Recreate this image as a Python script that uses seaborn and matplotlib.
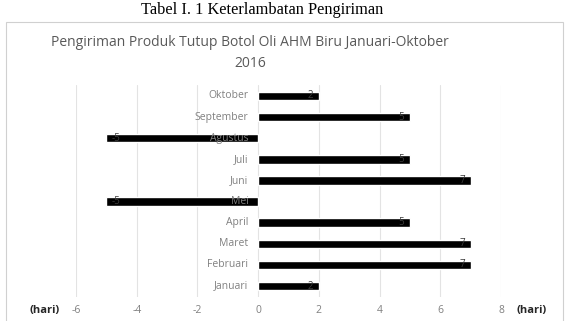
import matplotlib
matplotlib.use("Agg")
import matplotlib.pyplot as plt
import seaborn as sns
import pandas as pd
from matplotlib.patches import Rectangle

months = ["Januari", "Februari", "Maret", "April", "Mei", "Juni", "Juli",
          "Agustus", "September", "Oktober"]
delays = [2, 7, 7, 5, -5, 7, 5, -5, 5, 2]
xticks = [-6, -4, -2, 0, 2, 4, 6, 8]

sns.set_theme(style="white")
plt.rcParams["font.family"] = ["Open Sans", "DejaVu Sans"]

df = pd.DataFrame({"bulan": months, "hari": delays})
order = months[::-1]

fig = plt.figure(figsize=(5.69, 3.21), dpi=100)
ax = fig.add_axes([76 / 569, 1 - 296.6 / 321, (501 - 76) / 569, (296.6 - 85.4) / 321])

sns.barplot(data=df, x="hari", y="bulan", order=order, orient="h",
            color="black", width=0.4, saturation=1, ax=ax, zorder=3)

ax.set_xlim(-6, 8)
ax.set_ylim(len(order) - 0.5, -0.5)
ax.set_xticks(xticks)
ax.set_xticklabels([str(t) for t in xticks], color="#808080", fontsize=7.5)
ax.tick_params(axis="x", length=0, pad=6)
ax.set_yticks([])
ax.set_xlabel("")
ax.set_ylabel("")
for s in ax.spines.values():
    s.set_visible(False)
ax.grid(axis="x", color="#e3e3e3", linewidth=0.8, zorder=0)
ax.set_axisbelow(True)

for i, m in enumerate(order):
    v = df.loc[df.bulan == m, "hari"].iloc[0]
    ax.annotate(m, xy=(0, i), xytext=(-7, 0), textcoords="offset points",
                ha="right", va="center", fontsize=7.5, color="#808080", zorder=4)
    ax.annotate(str(v), xy=(v, i), xytext=(-4 if v > 0 else 4, 0),
                textcoords="offset points", ha="right" if v > 0 else "left",
                va="center", fontsize=7, color="#3a3a3a", zorder=4)

fig.text(262 / 569, 1 - 10 / 321, "Tabel I. 1 Keterlambatan Pengiriman",
         family=["Liberation Serif"], fontsize=11.8, color="black",
         ha="center", va="center")
fig.text(250 / 569, 1 - 53 / 321,
         "Pengiriman Produk Tutup Botol Oli AHM Biru Januari-Oktober\n2016",
         fontsize=10, color="#595959", ha="center", va="center", linespacing=1.5)

fig.text(45 / 569, 1 - 311 / 321, "(hari)", fontsize=8, fontweight="bold",
         color="#262626", ha="center", va="center")
fig.text(532 / 569, 1 - 311 / 321, "(hari)", fontsize=8, fontweight="bold",
         color="#262626", ha="center", va="center")

fig.patches.append(Rectangle((5.5 / 569, -0.01), (563 - 5.5) / 569, (1 - 22 / 321) + 0.01,
                             transform=fig.transFigure, fill=False,
                             edgecolor="#d0d0d0", linewidth=0.8))

fig.savefig("out.png", dpi=100)
